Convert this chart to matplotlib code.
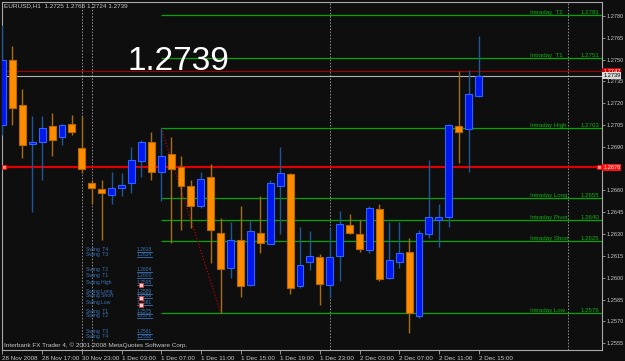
import matplotlib
matplotlib.use("Agg")
import matplotlib.pyplot as plt
import matplotlib.transforms as mtransforms
import numpy as np

plt.rcParams['font.family'] = ['Liberation Sans', 'DejaVu Sans']

# EURUSD H1 bars, index 0 = 1 Dec 2008 00:00
bar_idx = list(range(-9, 40))
opens = [1.2705, 1.2750, 1.2719, 1.2692, 1.2693, 1.2704, 1.2697, 1.2706, 1.2689,
         1.2665, 1.2661, 1.2657, 1.2662, 1.2665, 1.2680, 1.2693, 1.2673, 1.2685,
         1.2676, 1.2663, 1.2649, 1.2669, 1.2631, 1.2607, 1.2626, 1.2595, 1.2631,
         1.2623, 1.2663, 1.2671, 1.2594, 1.2611, 1.2614, 1.2595, 1.2615, 1.2636,
         1.2630, 1.2619, 1.2647, 1.2600, 1.2611, 1.2618, 1.2574, 1.2630, 1.2640,
         1.2642, 1.2704, 1.2702, 1.2725]
highs = [1.2774, 1.2759, 1.2730, 1.2711, 1.2711, 1.2713, 1.2706, 1.2712, 1.2711,
         1.2667, 1.2667, 1.2673, 1.2672, 1.2690, 1.2695, 1.2700, 1.2703, 1.2697,
         1.2684, 1.2667, 1.2673, 1.2678, 1.2641, 1.2638, 1.2649, 1.2640, 1.2656,
         1.2667, 1.2690, 1.2672, 1.2635, 1.2632, 1.2616, 1.2634, 1.2646, 1.2644,
         1.2640, 1.2649, 1.2651, 1.2638, 1.2638, 1.2627, 1.2633, 1.2681, 1.2651,
         1.2706, 1.2742, 1.2743, 1.2766]
lows = [1.2698, 1.2705, 1.2682, 1.2645, 1.2667, 1.2684, 1.2691, 1.2698, 1.2672,
        1.2651, 1.2626, 1.2651, 1.2656, 1.2658, 1.2669, 1.2667, 1.2653, 1.2624,
        1.2633, 1.2634, 1.2648, 1.2610, 1.2576, 1.2600, 1.2587, 1.2594, 1.2617,
        1.2623, 1.2630, 1.2589, 1.2593, 1.2605, 1.2581, 1.2587, 1.2598, 1.2630,
        1.2618, 1.2617, 1.2598, 1.2599, 1.2607, 1.2562, 1.2572, 1.2627, 1.2621,
        1.2635, 1.2679, 1.2673, 1.2724]
closes = [1.2750, 1.2717, 1.2691, 1.2693, 1.2703, 1.2695, 1.2705, 1.2700, 1.2675,
          1.2662, 1.2658, 1.2662, 1.2664, 1.2681, 1.2693, 1.2673, 1.2684, 1.2675,
          1.2663, 1.2649, 1.2668, 1.2633, 1.2606, 1.2626, 1.2594, 1.2632, 1.2624,
          1.2665, 1.2672, 1.2593, 1.2609, 1.2615, 1.2596, 1.2614, 1.2637, 1.2631,
          1.2620, 1.2648, 1.2599, 1.2612, 1.2617, 1.2576, 1.2631, 1.2642, 1.2642,
          1.2705, 1.2700, 1.2726, 1.2739]

time_tick_pos = [-9, -5, -1, 3, 7, 11, 15, 19, 23, 27, 31, 35, 39]
time_labels = ['28 Nov 2008', '28 Nov 17:00', '30 Nov 23:00', '1 Dec 03:00', '1 Dec 07:00',
               '1 Dec 11:00', '1 Dec 15:00', '1 Dec 19:00', '1 Dec 23:00', '2 Dec 03:00',
               '2 Dec 07:00', '2 Dec 11:00', '2 Dec 15:00']
day_separators = [-1, 0, 24, 48]
price_ticks = [round(1.2555 + 0.0015 * k, 4) for k in range(16)]

intraday_names = ['Intraday  T2', 'Intraday  T1', 'Intraday High', 'Intraday Long',
                  'Intraday Pivot', 'Intraday Short', 'Intraday Low']
intraday_vals = [1.2781, 1.2751, 1.2703, 1.2655, 1.2640, 1.2625, 1.2576]
intraday_start = 7
trend_x = [7, 13]
trend_y = [1.2703, 1.2576]

swing_names = ['Swing  T4', 'Swing  T3', 'Swing  T2', 'Swing  T1', 'Swing High', 'Swing Long',
               'Swing Short', 'Swing Low', 'Swing  T1', 'Swing  T2', 'Swing  T3', 'Swing  T4']
swing_vals = [1.2618, 1.2614, 1.2604, 1.2600, 1.2595, 1.2589, 1.2586, 1.2581, 1.2575,
              1.2572, 1.2561, 1.2558]
swing_marks = [1.2595, 1.2586, 1.2581]

bid, ask, ref_level = 1.2739, 1.2742, 1.2676
header = 'EURUSD,H1  1.2725 1.2766 1.2724 1.2739'

# colours
BG = '#0e0e0e'
GREY = '#a8a8a8'
TXT = '#c8c8c8'
BLUE_BODY, BLUE_EDGE, BLUE_WICK = '#0018f0', '#3062ff', '#1d5898'
ORA_BODY, ORA_EDGE, ORA_WICK = '#ff8c00', '#b86800', '#a86c12'
GREEN = '#00a800'
GREEN_TXT = '#10b010'
SWING = '#3a76b8'

W, H = 625, 361
fig = plt.figure(figsize=(W / 100, H / 100), dpi=100, facecolor=BG)
ax = fig.add_axes([2 / W, 1 - 350 / H, 600 / W, 348 / H], facecolor=BG)

x_left, x_right = -9.05, 51.45
ax.set_xlim(x_left, x_right)
ax.set_ylim(1.25503, 1.27896)

blend = mtransforms.blended_transform_factory(ax.transAxes, ax.transData)

# day separators
for d in day_separators:
    ax.axvline(d, color='#8c8c8c', lw=0.7, ls=(0, (1.6, 1.6)), zorder=1)

# horizontal price lines
ax.axhline(ask, color='#a00000', lw=0.8, zorder=2)
ax.axhline(bid, color='#b4b4b4', lw=0.8, zorder=2)
ax.axhline(ref_level, color='#e00000', lw=1.6, zorder=2)
ax.plot([0.003, 0.995], [ref_level, ref_level], 's', transform=blend, ms=3,
        mfc='#ff9090', mec='#ff0000', mew=0.6, zorder=6, clip_on=False)

# intraday levels
for name, v in zip(intraday_names, intraday_vals):
    ax.hlines(v, intraday_start, x_right, color=GREEN, lw=0.9, zorder=2)
    ax.text(0.88, v, name, transform=blend, color=GREEN_TXT, fontsize=4.4,
            ha='left', va='bottom', zorder=7)
    ax.text(0.996, v, '%.4f' % v, transform=blend, color=GREEN_TXT, fontsize=4.4,
            ha='right', va='bottom', zorder=7)

ax.plot(trend_x, trend_y, color='#c00000', lw=0.9, ls=(0, (1, 1.5)), zorder=3)

# swing levels
for name, v in zip(swing_names, swing_vals):
    ax.text(0.14, v, name, transform=blend, color=SWING, fontsize=3.6,
            ha='left', va='bottom', zorder=7)
    ax.text(0.225, v, '%.4f' % v, transform=blend, color=SWING, fontsize=3.6,
            ha='left', va='bottom', zorder=7)
    ax.axhline(v, xmin=0.225, xmax=0.25, color=SWING, lw=0.6, zorder=6)
ax.plot([0.232] * len(swing_marks), swing_marks, 's', transform=blend, ms=2.2,
        mfc='#ffd0d0', mec='#ff3030', mew=0.5, zorder=8)

# candles
x = np.array(bar_idx, dtype=float)
o = np.array(opens)
c = np.array(closes)
up = c >= o
ax.vlines(x[up], np.array(lows)[up], np.array(highs)[up], color=BLUE_WICK, lw=1, zorder=4)
ax.vlines(x[~up], np.array(lows)[~up], np.array(highs)[~up], color=ORA_WICK, lw=1, zorder=4)
body_lo = np.minimum(o, c)
body_h = np.maximum(np.abs(c - o), 0.00008)
ax.bar(x[up], body_h[up], bottom=body_lo[up], width=0.7, color=BLUE_BODY,
       edgecolor=BLUE_EDGE, linewidth=0.8, zorder=5)
ax.bar(x[~up], body_h[~up], bottom=body_lo[~up], width=0.7, color=ORA_BODY,
       edgecolor=ORA_EDGE, linewidth=0.8, zorder=5)

# axes styling
for s in ax.spines.values():
    s.set_color(GREY)
    s.set_linewidth(0.8)
ax.yaxis.tick_right()
ax.set_yticks(price_ticks)
# the 1.2675 label sits under the red price tag, as in the terminal
ax.set_yticklabels(['' if abs(p - ref_level) < 0.0003 else '%.4f' % p for p in price_ticks])
ax.set_xticks(time_tick_pos)
ax.set_xticklabels(time_labels, ha='left')
ax.tick_params(axis='both', colors=GREY, labelcolor=TXT, labelsize=4.5, length=3,
               width=0.6, pad=1.5)
ax.tick_params(axis='y', labelsize=4.1, length=2, pad=1)

# price tags on the right axis
tag = dict(fontsize=4.1, va='center', ha='left', transform=blend, clip_on=False, zorder=10)
ax.text(1.002, ask, '%.4f' % ask, color='white',
        bbox=dict(facecolor='#d00000', edgecolor='none', pad=0.6), **tag)
ax.text(1.002, bid, '%.4f' % bid, color='black',
        bbox=dict(facecolor='#d8d8d8', edgecolor='none', pad=0.6), **tag)
ax.text(1.002, ref_level, '%.4f' % ref_level, color='white',
        bbox=dict(facecolor='#ff1010', edgecolor='none', pad=0.6), **tag)

# texts
fig.text(4 / W, 1 - 6 / H, header, color=TXT, fontsize=4.6, va='center', ha='left')
fig.text(127 / W, 1 - 70 / H, '%.4f' % bid, color='white', fontsize=24,
         va='baseline', ha='left')
fig.text(4 / W, 1 - 345 / H, 'Interbank FX Trader 4, \u00a9 2001-2008 MetaQuotes Software Corp.',
         color=TXT, fontsize=4.6, va='center', ha='left', zorder=10)

fig.savefig('out.png', dpi=100, facecolor=BG)
